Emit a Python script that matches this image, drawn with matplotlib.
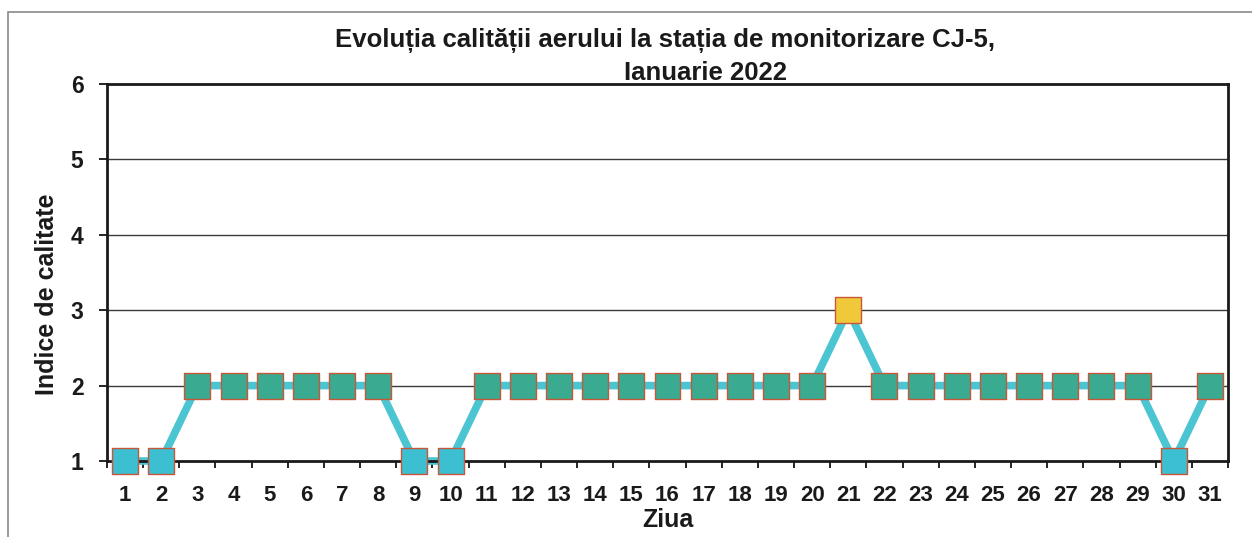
import numpy as np
import matplotlib.pyplot as plt
from matplotlib.patches import Rectangle

plt.rcParams['font.family'] = ['Liberation Sans', 'DejaVu Sans']

# --- date ---
zile = list(range(1, 32))
indice = [1, 1, 2, 2, 2, 2, 2, 2, 1, 1,
          2, 2, 2, 2, 2, 2, 2, 2, 2, 2,
          3, 2, 2, 2, 2, 2, 2, 2, 2, 1, 2]
culori_indice = {1: '#3cbfd0', 2: '#3aaa90', 3: '#f0c93a'}

titlu_1 = "Evoluția calității aerului la stația de monitorizare CJ-5,"
titlu_2 = "Ianuarie 2022"

W, H = 1252, 537
fig = plt.figure(figsize=(W/100, H/100), dpi=100)
ax = fig.add_axes([107/W, 1 - 461/H, (1228-107)/W, (461-84)/H])

# chenar exterior (ca in documentul scanat)
fig.patches.append(Rectangle((8/W, -0.1), 1.1, 1.1 - 12/H, transform=fig.transFigure,
                             fill=False, ec='#8a8a8a', lw=1.2))

# linii orizontale de grila
for yv in [2, 3, 4, 5]:
    ax.axhline(yv, color='#3a3a3a', lw=1.0, zorder=1)

x = np.array(zile)
y = np.array(indice)
ax.plot(x, y, color='#4cc5d2', lw=5.5, zorder=2, clip_on=False)
ax.scatter(x, y, marker='s', s=350, c=[culori_indice[v] for v in indice],
           edgecolors='#c8573a', linewidths=1.0, zorder=3, clip_on=False)

ax.set_xlim(0.5, 31.5)
ax.set_ylim(1, 6)
ax.set_xticks(x)
ax.set_xticklabels([str(z) for z in zile])
ax.set_xticks(np.arange(0.5, 32, 1), minor=True)
ax.tick_params(axis='x', which='major', length=0, pad=17, labelsize=16)
ax.tick_params(axis='x', which='minor', length=5, width=1.2, direction='out')
ax.set_yticks([1, 2, 3, 4, 5, 6])
ax.tick_params(axis='y', length=6, width=1.2, pad=11, labelsize=16.5)
for lab in ax.get_xticklabels() + ax.get_yticklabels():
    lab.set_fontweight('bold')
    lab.set_color('#1a1a1a')

for sp in ax.spines.values():
    sp.set_linewidth(2.0)
    sp.set_color('#1a1a1a')

fig.text(47/W, 1 - 294/H, "Indice de calitate", rotation=90, ha='center', va='center',
         fontsize=18, fontweight='bold', color='#1a1a1a')
ax.set_xlabel("Ziua", fontsize=18, fontweight='bold', labelpad=2, color='#1a1a1a')

fig.text(665/W, 1 - 47/H, titlu_1, ha='center', va='baseline', fontsize=18.5,
         fontweight='bold', color='#1a1a1a')
fig.text(705/W, 1 - 80/H, titlu_2, ha='center', va='baseline', fontsize=18.5,
         fontweight='bold', color='#1a1a1a')

fig.savefig('out.png', dpi=100)
